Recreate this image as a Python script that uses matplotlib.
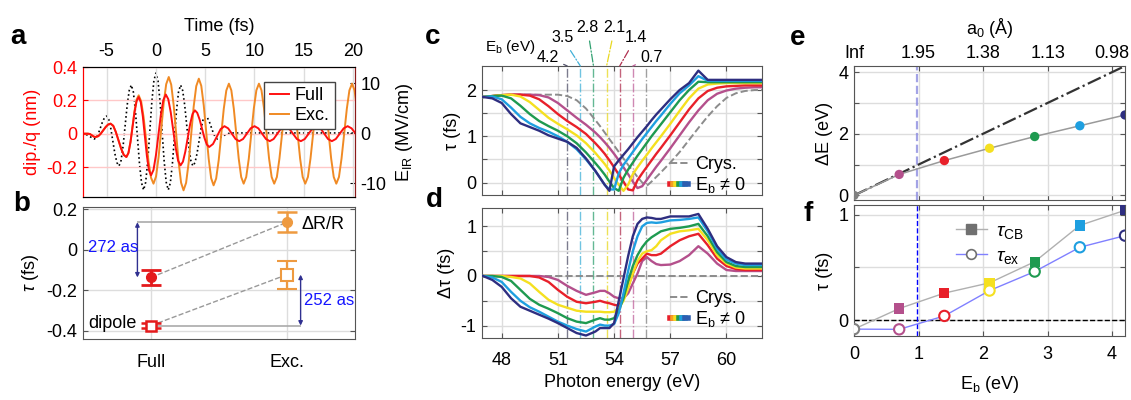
import matplotlib
matplotlib.use('Agg')
import matplotlib.pyplot as plt
from matplotlib.lines import Line2D
from matplotlib.legend_handler import HandlerTuple

plt.rcParams['font.family'] = ['Liberation Sans', 'DejaVu Sans']
plt.rcParams['font.size'] = 13
plt.rcParams['mathtext.fontset'] = 'custom'
plt.rcParams['mathtext.rm'] = 'Liberation Sans'
plt.rcParams['mathtext.it'] = 'Liberation Sans:italic'
plt.rcParams['axes.unicode_minus'] = False
plt.rcParams['xtick.direction'] = 'in'
plt.rcParams['ytick.direction'] = 'in'

# ---- panel a : dipole (nm) and IR field (MV/cm) vs time (fs)
t_exc = [-7.5, -6.9, -6.7, -6.5, -6.3, -6.1, -5.85, -5.6, -5.35, -5.1, -4.85, -4.6, -4.33, -4.07, -3.8, -3.53, -3.27,
         -3.0, -2.79, -2.58, -2.375, -2.17, -1.96, -1.75, -1.5, -1.25, -1.0, -0.75, -0.5, -0.25, 0.01, 0.27, 0.525,
         0.78, 1.04, 1.3, 1.55, 1.8, 2.05, 2.3, 2.55, 2.8, 3.06, 3.32, 3.575, 3.83, 4.09, 4.35, 4.6, 4.85, 5.1,
         5.35, 5.6, 5.85, 6.11, 6.37, 6.625, 6.88, 7.14, 7.4, 7.65, 7.9, 8.15, 8.4, 8.65, 8.9, 9.16, 9.42, 9.675,
         9.93, 10.19, 10.45, 10.71, 10.97, 11.225, 11.48, 11.74, 12.0, 12.27, 12.53, 12.8, 13.07, 13.33, 13.6,
         13.86, 14.12, 14.375, 14.63, 14.89, 15.15, 15.42, 15.68, 15.95, 16.22, 16.48, 16.75, 17.01, 17.27,
         17.525, 17.78, 18.04, 18.3, 18.57, 18.83, 19.1, 19.37, 19.63, 19.9, 20.15, 20.4]
dip_exc = [0.0, 0.0, -0.002, -0.01, -0.018, -0.02, -0.015, 0.0, 0.02, 0.04, 0.055, 0.06, 0.047, 0.01, -0.04, -0.09, -0.127,
           -0.14, -0.115, -0.048, 0.045, 0.138, 0.205, 0.23, 0.194, 0.098, -0.035, -0.168, -0.264, -0.30, -0.257, -0.14, 0.02,
           0.18, 0.297, 0.34, 0.294, 0.17, 0.0, -0.17, -0.294, -0.34, -0.295, -0.173, -0.005, 0.163, 0.285, 0.33, 0.287, 0.17, 0.01,
           -0.15, -0.267, -0.31, -0.269, -0.158, -0.005, 0.148, 0.259, 0.30, 0.26, 0.15, 0.0, -0.15, -0.26, -0.30, -0.26, -0.15, 0.0,
           0.15, 0.26, 0.30, 0.26, 0.15, 0.0, -0.15, -0.26, -0.30, -0.26, -0.15, 0.0, 0.15, 0.26, 0.30,
           0.26, 0.15, 0.0, -0.15, -0.26, -0.30, -0.26, -0.15, 0.0, 0.15, 0.26, 0.30, 0.26, 0.15,
           0.0, -0.15, -0.26, -0.30, -0.26, -0.15, 0.0, 0.15, 0.26, 0.30, 0.26, 0.15]
t_full = [-7.5, -6.9, -6.7, -6.5, -6.3, -6.1, -5.85, -5.6, -5.35, -5.1, -4.85, -4.6, -4.33, -4.07, -3.8, -3.53, -3.27,
          -3.0, -2.79, -2.58, -2.375, -2.17, -1.96, -1.75, -1.54, -1.33, -1.125, -0.92, -0.71, -0.5, -0.25, 0.0, 0.25,
          0.5, 0.75, 1.0, 1.25, 1.5, 1.75, 2.0, 2.25, 2.5, 2.74, 2.98, 3.225, 3.47, 3.71, 3.95, 4.19, 4.43, 4.675,
          4.92, 5.16, 5.4, 5.79, 6.175, 6.56, 6.95, 7.325, 7.7, 8.075, 8.45, 8.84, 9.225, 9.61, 10.0, 10.39,
          10.775, 11.16, 11.55, 11.94, 12.325, 12.71, 13.1, 13.5, 13.9, 14.3, 14.7, 15.1, 15.5, 15.9, 16.3,
          16.69, 17.075, 17.46, 17.85, 18.25, 18.65, 19.05, 19.45, 19.85, 20.4]
dip_full = [0.0, 0.0, -0.002, -0.01, -0.018, -0.02, -0.015, 0.0, 0.02, 0.04, 0.055, 0.06, 0.047, 0.01, -0.04, -0.09, -0.127,
            -0.14, -0.116, -0.05, 0.04, 0.13, 0.196, 0.22, 0.189, 0.103, -0.015, -0.133, -0.219, -0.25, -0.218, -0.129, -0.008,
            0.114, 0.202, 0.235, 0.207, 0.129, 0.022, -0.084, -0.162, -0.19, -0.168, -0.108, -0.025, 0.058, 0.118, 0.14, 0.125, 0.085, 0.03,
            -0.025, -0.065, -0.08, -0.062, -0.018, 0.027, 0.045, 0.032, 0.0, -0.032, -0.045, -0.032, 0.0, 0.032, 0.045, 0.032,
            0.0, -0.032, -0.045, -0.032, 0.0, 0.032, 0.045, 0.032, 0.0, -0.032, -0.045, -0.032, 0.0, 0.032, 0.045,
            0.032, 0.0, -0.032, -0.045, -0.032, 0.0, 0.032, 0.045, 0.032, -0.01]
t_ir = [-7.5, -7.0, -6.25, -6.04, -5.83, -5.625, -5.42, -5.21, -5.0, -4.79, -4.58, -4.375, -4.17, -3.96, -3.75,
        -3.54, -3.33, -3.125, -2.92, -2.71, -2.5, -2.29, -2.08, -1.875, -1.67, -1.46, -1.25, -1.04, -0.83, -0.625,
        -0.42, -0.21, 0.0, 0.21, 0.42, 0.625, 0.83, 1.04, 1.25, 1.46, 1.67, 1.875, 2.08, 2.29, 2.5, 2.71, 2.92,
        3.125, 3.33, 3.54, 3.75, 3.96, 4.17, 4.375, 4.58, 4.79, 5.0, 5.21, 5.42, 5.625, 5.83, 6.04, 6.25, 7.0,
        7.5, 20.4]
e_ir = [0.0, -0.4, -1.2, -0.89, -0.05, 1.1, 2.25, 3.09, 3.4, 2.73, 0.9, -1.6, -4.1, -5.93, -6.6,
        -5.51, -2.55, 1.5, 5.55, 8.51, 9.6, 8.19, 4.35, -0.9, -6.15, -9.99, -11.4, -9.83, -5.55, 0.3,
        6.15, 10.43, 12.0, 10.43, 6.15, 0.3, -5.55, -9.83, -11.4, -9.99, -6.15, -0.9, 4.35, 8.19, 9.6, 8.51, 5.55,
        1.5, -2.55, -5.51, -6.6, -5.93, -4.1, -1.6, 0.9, 2.73, 3.4, 3.09, 2.25, 1.1, -0.05, -0.89, -1.2, -0.4,
        0.0, 0.0]

# ---- panel b : delays (fs)
methods = ['Full', 'Exc.']
tau_refl = [-0.137, 0.135]
err_refl = [0.035, 0.048]
tau_dip = [-0.374, -0.123]
err_dip = [0.012, 0.069]
gap_labels = ['272 as', '252 as']

# ---- panels c, d : delay vs photon energy
energy = [47, 47.5, 48, 48.5, 49, 49.5, 50, 50.5, 51, 51.5, 52, 52.5, 53, 53.25, 53.5, 53.75, 54, 54.25,
          54.5, 54.75, 55, 55.25, 55.5, 55.75, 56, 56.25, 56.5, 57, 57.5, 58, 58.5, 59, 59.5, 60, 60.5,
          61, 61.5, 62]
tau_crys = [1.85, 1.87, 1.89, 1.9, 1.9, 1.9, 1.9, 1.9, 1.9, 1.87, 1.78, 1.6, 1.35, 1.22, 1.08, 0.94, 0.8, 0.66,
            0.52, 0.38, 0.25, 0.12, 0.0, -0.07, 0.02, 0.12, 0.22, 0.43, 0.66, 0.92, 1.18, 1.43, 1.65, 1.83, 1.93,
            1.98, 2.0, 2.0]
tau_07 = [1.85, 1.87, 1.89, 1.9, 1.9, 1.9, 1.89, 1.84, 1.72, 1.56, 1.4, 1.25, 1.08, 0.98, 0.87, 0.75, 0.62, 0.48,
          0.33, 0.18, 0.02, -0.12, -0.08, 0.06, 0.2, 0.34, 0.47, 0.74, 1.02, 1.3, 1.56, 1.78, 1.92, 1.99, 2.03,
          2.05, 2.06, 2.06]
tau_14 = [1.85, 1.87, 1.89, 1.9, 1.9, 1.88, 1.8, 1.65, 1.48, 1.33, 1.2, 1.05, 0.85, 0.74, 0.62, 0.48, 0.33, 0.17,
          0.02, -0.15, -0.17, 0.05, 0.2, 0.34, 0.48, 0.62, 0.75, 1.02, 1.3, 1.58, 1.82, 1.98, 2.05, 2.08, 2.09,
          2.1, 2.1, 2.1]
tau_21 = [1.85, 1.87, 1.89, 1.9, 1.86, 1.74, 1.57, 1.4, 1.27, 1.15, 1.02, 0.85, 0.64, 0.52, 0.4, 0.26, 0.1, -0.05,
          -0.18, -0.05, 0.18, 0.33, 0.47, 0.6, 0.74, 0.87, 1.0, 1.27, 1.55, 1.82, 2.03, 2.12, 2.14, 2.15, 2.15,
          2.15, 2.15, 2.15]
tau_28 = [1.85, 1.87, 1.88, 1.82, 1.66, 1.48, 1.33, 1.22, 1.12, 1.0, 0.85, 0.65, 0.42, 0.3, 0.17, 0.02, -0.12, -0.18,
          0.1, 0.28, 0.43, 0.58, 0.72, 0.86, 1.0, 1.13, 1.26, 1.52, 1.78, 2.0, 2.18, 2.17, 2.17, 2.17, 2.17,
          2.17, 2.17, 2.17]
tau_35 = [1.85, 1.86, 1.8, 1.62, 1.42, 1.28, 1.18, 1.1, 1.0, 0.88, 0.72, 0.5, 0.25, 0.1, -0.05, -0.15, -0.15, 0.2,
          0.38, 0.52, 0.66, 0.8, 0.94, 1.07, 1.2, 1.33, 1.45, 1.7, 1.93, 2.1, 2.3, 2.2, 2.2, 2.2, 2.2,
          2.2, 2.2, 2.2]
tau_42 = [1.85, 1.82, 1.72, 1.48, 1.28, 1.2, 1.12, 1.02, 0.95, 0.88, 0.75, 0.52, 0.25, 0.1, -0.05, -0.18, 0.35, 0.48,
          0.6, 0.72, 0.85, 0.98, 1.1, 1.22, 1.35, 1.47, 1.58, 1.8, 2.0, 2.15, 2.42, 2.22, 2.22, 2.22, 2.22,
          2.22, 2.22, 2.22]
dtau_crys = [0.0] * 38
dtau_07 = [0, 0, 0, 0, 0, 0, 0, -0.02, -0.08, -0.2, -0.3, -0.38, -0.33, -0.3, -0.3, -0.35, -0.42, -0.45,
           -0.45, -0.35, -0.15, 0.05, 0.3, 0.38, 0.3, 0.24, 0.22, 0.23, 0.3, 0.42, 0.6, 0.45, 0.25, 0.12, 0.1,
           0.1, 0.1, 0.1]
dtau_14 = [0, 0, 0, 0, 0, 0, -0.03, -0.12, -0.28, -0.42, -0.52, -0.55, -0.52, -0.5, -0.53, -0.55, -0.58, -0.6,
           -0.45, -0.2, 0.05, 0.25, 0.35, 0.45, 0.42, 0.42, 0.45, 0.6, 0.72, 0.8, 0.85, 0.62, 0.35, 0.2, 0.14,
           0.12, 0.12, 0.12]
dtau_21 = [0, 0, 0, -0.02, -0.05, -0.15, -0.32, -0.48, -0.58, -0.64, -0.7, -0.72, -0.72, -0.72, -0.73, -0.73, -0.72, -0.65,
           -0.5, -0.25, 0.05, 0.3, 0.45, 0.5, 0.52, 0.6, 0.72, 0.85, 0.9, 0.92, 0.95, 0.72, 0.42, 0.25, 0.17,
           0.15, 0.15, 0.15]
dtau_28 = [0, 0, -0.02, -0.1, -0.28, -0.46, -0.58, -0.66, -0.75, -0.85, -0.92, -0.95, -0.88, -0.85, -0.88, -0.88, -0.85, -0.7,
           -0.45, -0.1, 0.2, 0.42, 0.58, 0.7, 0.78, 0.84, 0.9, 0.95, 0.97, 1.0, 1.05, 0.8, 0.48, 0.28, 0.2,
           0.18, 0.18, 0.18]
dtau_35 = [0, -0.03, -0.12, -0.32, -0.5, -0.63, -0.72, -0.82, -0.92, -1.0, -1.07, -1.12, -1.02, -0.98, -1.0, -1.0, -0.97, -0.75,
           -0.35, 0.1, 0.5, 0.8, 1.0, 1.07, 1.08, 1.07, 1.08, 1.12, 1.13, 1.15, 1.18, 0.9, 0.55, 0.33, 0.25,
           0.22, 0.22, 0.22]
dtau_42 = [0, -0.08, -0.22, -0.45, -0.62, -0.7, -0.78, -0.86, -0.95, -1.05, -1.15, -1.2, -1.12, -1.05, -1.05, -1.05, -0.95, -0.5,
           -0.05, 0.4, 0.8, 1.05, 1.15, 1.18, 1.17, 1.15, 1.15, 1.2, 1.2, 1.2, 1.25, 0.95, 0.6, 0.38, 0.28,
           0.25, 0.25, 0.25]

eb_labels = ['0.7', '1.4', '2.1', '2.8', '3.5', '4.2']
eb_colors = ['#B4508C', '#E8202A', '#F5E020', '#1E9A50', '#1E9FE0', '#2E2E80']
tau_curves = [tau_07, tau_14, tau_21, tau_28, tau_35, tau_42]
dtau_curves = [dtau_07, dtau_14, dtau_21, dtau_28, dtau_35, dtau_42]
# energies of the dash-dot markers (Crys., then Eb = 0.7 ... 4.2)
mark_E = [55.7, 55.0, 54.3, 53.6, 52.9, 52.2, 51.5]
mark_colors = ['#808080', '#C0609A', '#B03050', '#E8D820', '#30A070', '#40B0D8', '#505068']

# ---- panels e, f
eb = [0, 0.7, 1.4, 2.1, 2.8, 3.5, 4.2]
dE = [0, 0.68, 1.13, 1.53, 1.91, 2.26, 2.61]
tau_cb = [-0.085, 0.11, 0.256, 0.353, 0.553, 0.897, 1.04]
tau_ex = [-0.085, -0.087, 0.04, 0.28, 0.46, 0.69, 0.80]
pt_colors = ['#808080'] + eb_colors
a0_labels = ['Inf', '1.95', '1.38', '1.13', '0.98']
eb_cut = 0.98

fig = plt.figure(figsize=(11.31, 4.0), dpi=100)
grid_c = '#DDDDDD'
frame_c = '#555555'

# ================= a
ax_a = fig.add_axes([0.0734, 0.5075, 0.2405, 0.325])
ax_a2 = ax_a.twinx()
ax_a.set_zorder(ax_a2.get_zorder() + 1)
ax_a.patch.set_visible(False)
ax_a2.plot(t_ir, e_ir, ':', color='black', lw=1.2)
ax_a.plot(t_exc, dip_exc, color='#F08A24', lw=1.4, label='Exc.')
ax_a.plot(t_full, dip_full, color='#FF1010', lw=1.4, label='Full')
ax_a.set_xlim(-7.4, 20.2)
ax_a.set_ylim(-0.38, 0.4)
ax_a2.set_ylim(-12.8, 13.2)
ax_a.xaxis.tick_top()
ax_a.xaxis.set_label_position('top')
ax_a.set_xticks([-5, 0, 5, 10, 15, 20])
ax_a.set_xlabel('Time (fs)', labelpad=9)
ax_a.tick_params(axis='x', pad=5, length=0)
ax_a.set_yticks([-0.2, 0, 0.2, 0.4], ['-0.2', '0', '0.2', '0.4'])
ax_a.tick_params(axis='y', colors='red', labelcolor='red', pad=4)
ax_a.set_ylabel('dip./q (nm)', color='red')
ax_a2.set_yticks([-10, 0, 10], ['-10', '0', '10'])
ax_a2.tick_params(axis='y', pad=4)
ax_a2.set_ylabel('E$_\\mathrm{IR}$ (MV/cm)', labelpad=5)
ax_a.grid(axis='x', color=grid_c, lw=1)
ax_a.grid(axis='y', color='#FFC8C8', lw=1)
for ax in (ax_a, ax_a2):
    ax.spines['left'].set_color('red')
    ax.spines['right'].set_color('#8B1A1A')
h, l = ax_a.get_legend_handles_labels()
ax_a.legend(h[::-1], l[::-1], loc='upper right', bbox_to_anchor=(0.96, 0.955), fontsize=13,
            handlelength=1.1, handletextpad=0.3, labelspacing=0.15, borderpad=0.3,
            fancybox=False, edgecolor='#444444', framealpha=1)

# ================= b
ax_b = fig.add_axes([0.0734, 0.1525, 0.2405, 0.33])
xpos = [1, 2]
ax_b.plot(xpos, tau_refl, '--', color='#999999', lw=1, zorder=2)
ax_b.plot(xpos, tau_dip, '--', color='#999999', lw=1, zorder=2)
ax_b.hlines(tau_refl[1], 0.9, xpos[1], color='#AAAAAA', lw=1.2, zorder=1)
ax_b.hlines(tau_dip[0], xpos[0], 2.1, color='#AAAAAA', lw=1.2, zorder=1)
ax_b.errorbar(xpos[0], tau_refl[0], yerr=err_refl[0], fmt='o', color='#E41A1C', ms=7, capsize=7, elinewidth=2, capthick=2, zorder=4)
ax_b.errorbar(xpos[1], tau_refl[1], yerr=err_refl[1], fmt='o', color='#EE9A40', ms=7, capsize=7, elinewidth=1.8, capthick=1.8, zorder=4)
ax_b.errorbar(xpos[0], tau_dip[0], yerr=err_dip[0], fmt='s', color='#E41A1C', mfc='white', mew=1.8, ms=7, capsize=7, elinewidth=2, capthick=2, zorder=4)
ax_b.errorbar(xpos[1], tau_dip[1], yerr=err_dip[1], fmt='s', color='#EE9A40', mfc='white', mew=1.5, ms=8, capsize=7, elinewidth=1.6, capthick=1.6, zorder=4)
ax_b.annotate('', xy=(0.9, tau_refl[1]), xytext=(0.9, tau_refl[0]),
              arrowprops=dict(arrowstyle='<|-|>', color='#303090', lw=1, mutation_scale=6, shrinkA=0, shrinkB=0))
ax_b.annotate('', xy=(2.1, tau_dip[1]), xytext=(2.1, tau_dip[0]),
              arrowprops=dict(arrowstyle='<|-|>', color='#303090', lw=1, mutation_scale=6, shrinkA=0, shrinkB=0))
ax_b.text(0.72, 0.011, gap_labels[0], color='#1515FF', ha='center', va='center', fontsize=12)
ax_b.text(2.31, -0.249, gap_labels[1], color='#1515FF', ha='center', va='center', fontsize=12)
ax_b.text(2.108, 0.125, 'ΔR/R', ha='left', va='center', fontsize=13)
ax_b.text(0.895, -0.365, 'dipole', ha='right', va='center', fontsize=13)
ax_b.set_xlim(0.5, 2.5)
ax_b.set_ylim(-0.44, 0.21)
ax_b.set_xticks(xpos, methods)
ax_b.set_yticks([-0.4, -0.2, 0, 0.2], ['-0.4', '-0.2', '0', '0.2'])
ax_b.set_ylabel('$\\tau$ (fs)')
ax_b.tick_params(axis='x', pad=11, length=0)
ax_b.tick_params(axis='y', right=True, pad=4, color=frame_c)
ax_b.grid(color=grid_c, lw=1)
ax_b.set_axisbelow(True)
for s in ax_b.spines.values():
    s.set_color(frame_c)

# ================= c, d
ax_c = fig.add_axes([0.4262, 0.5125, 0.2476, 0.3225])
ax_d = fig.add_axes([0.4262, 0.155, 0.2476, 0.325])
for ax, crys, curves, leg_y in ((ax_c, tau_crys, tau_curves, -0.125), (ax_d, dtau_crys, dtau_curves, -0.055)):
    for e0, mc in zip(mark_E, mark_colors):
        ax.axvline(e0, color=mc, ls='-.', lw=1, alpha=0.75, zorder=1)
    ax.plot(energy, crys, '--', color='#8C8C8C', lw=1.4, zorder=2, label='Crys.')
    for vals, col in zip(curves, eb_colors):
        ax.plot(energy, vals, color=col, lw=1.7, zorder=3)
    ax.set_xlim(46.95, 61.9)
    ax.set_xticks([48, 51, 54, 57, 60])
    ax.grid(color=grid_c, lw=1)
    ax.set_axisbelow(True)
    ax.tick_params(top=True, right=True, color=frame_c, pad=4)
    for s in ax.spines.values():
        s.set_color(frame_c)
    rainbow = tuple(Line2D([], [], color=c, lw=4) for c in ['#E8202A', '#F5A020', '#F5E020', '#1E9A50', '#1E9FE0', '#2E5EB0'])
    crys_h = Line2D([], [], color='#8C8C8C', ls='--', lw=1.4)
    ax.legend([crys_h, rainbow], ['Crys.', 'E$_\\mathrm{b}$ ≠ 0'], handler_map={tuple: HandlerTuple(ndivide=None, pad=0)},
              loc='lower right', bbox_to_anchor=(1.0, leg_y), frameon=False, fontsize=13,
              handlelength=1.0, handletextpad=0.4, labelspacing=0.1)

ax_c.set_ylim(-0.27, 2.52)
ax_c.set_yticks([0, 0.5, 1, 1.5, 2], ['0', '', '1', '', '2'])
ax_c.tick_params(labelbottom=False)
ax_c.set_ylabel('τ (fs)')
ax_d.set_ylim(-1.25, 1.37)
ax_d.set_yticks([-1, -0.5, 0, 0.5, 1], ['-1', '', '0', '', '1'])
ax_d.tick_params(axis='x', pad=10)
ax_d.set_ylabel('Δτ (fs)')
ax_d.set_xlabel('Photon energy (eV)')

# Eb labels above panel c
lab_off = [(-20, 9), (-18, 28), (-6, 38), (8, 38), (16, 28), (19, 9)]
for lab, e0, mc, off in zip(eb_labels[::-1], mark_E[:0:-1], mark_colors[:0:-1], lab_off):
    ax_c.annotate(lab, xy=(e0, 1.0), xycoords=ax_c.get_xaxis_transform(), xytext=off,
                  textcoords='offset pixels', ha='center', va='center', fontsize=11.5,
                  arrowprops=dict(arrowstyle='-', color=mc, lw=0.9, ls='-.', shrinkA=2, shrinkB=0),
                  annotation_clip=False)
fig.text(510 / 1131, 1 - 47 / 400, 'E$_\\mathrm{b}$ (eV)', ha='center', va='center', fontsize=11)

# ================= e
ax_e = fig.add_axes([0.7551, 0.5, 0.2396, 0.335])
ax_e.axvline(eb_cut, color='#8C8CE0', ls='--', lw=1.6, alpha=0.8, zorder=1)
ax_e.plot(eb, eb, '-.', color='#333333', lw=1.6, zorder=2)
ax_e.plot(eb, dE, color='#9A9A9A', lw=1.1, zorder=2)
ax_e.scatter(eb, dE, c=pt_colors, s=45, zorder=3, edgecolors='none')
ax_e.set_xlim(0, 4.2)
ax_e.set_ylim(-0.15, 4.2)
ax_e.set_xticks([0, 1, 2, 3, 4], a0_labels)
ax_e.set_yticks([0, 1, 2, 3, 4], ['0', '', '2', '', '4'])
ax_e.tick_params(axis='x', top=True, bottom=True, labeltop=True, labelbottom=False, pad=3, color=frame_c)
ax_e.tick_params(axis='y', right=True, pad=4, color=frame_c)
ax_e.xaxis.set_label_position('top')
ax_e.set_xlabel('a$_0$ (Å)', labelpad=8)
ax_e.set_ylabel('ΔE (eV)')
ax_e.grid(color=grid_c, lw=1)
ax_e.set_axisbelow(True)
for s in ax_e.spines.values():
    s.set_color(frame_c)

# ================= f
ax_f = fig.add_axes([0.7551, 0.16, 0.2396, 0.3275])
ax_f.axhline(0, color='black', ls='--', lw=1, zorder=1)
ax_f.axvline(eb_cut, color='blue', ls='--', lw=1, zorder=1)
ax_f.plot(eb, tau_cb, color='#B0B0B0', lw=1, zorder=2)
ax_f.plot(eb, tau_ex, color='#8080FF', lw=1, zorder=2)
ax_f.scatter(eb[1:], tau_cb[1:], marker='s', c=pt_colors[1:], s=55, zorder=3, edgecolors='none')
ax_f.scatter(eb, tau_ex, marker='o', facecolors='white', edgecolors=pt_colors, s=55, lw=1.5, zorder=4)
ax_f.set_xlim(0, 4.2)
ax_f.set_ylim(-0.15, 1.09)
ax_f.set_xticks([0, 1, 2, 3, 4])
ax_f.set_yticks([0, 0.5, 1], ['0', '', '1'])
ax_f.tick_params(axis='x', top=True, pad=7, color=frame_c)
ax_f.tick_params(axis='y', right=True, pad=4, color=frame_c)
ax_f.set_xlabel('E$_\\mathrm{b}$ (eV)', labelpad=8)
ax_f.set_ylabel('τ (fs)')
ax_f.grid(color=grid_c, lw=1)
ax_f.set_axisbelow(True)
for s in ax_f.spines.values():
    s.set_color(frame_c)
h_cb = Line2D([], [], color='#B0B0B0', lw=1, marker='s', ms=7, mfc='#707070', mec='#707070')
h_ex = Line2D([], [], color='#8080FF', lw=1, marker='o', ms=7, mfc='white', mec='#707070', mew=1.2)
ax_f.legend([h_cb, h_ex], ['$\\tau_\\mathrm{CB}$', '$\\tau_\\mathrm{ex}$'], loc='upper left',
            bbox_to_anchor=(0.31, 1.0), frameon=False, fontsize=14, handlelength=1.6,
            handletextpad=0.5, labelspacing=0.3)

# panel letters
for lab, x, y in (('a', 18, 37), ('b', 22, 204), ('c', 433, 37), ('d', 434, 200), ('e', 798, 38), ('f', 808, 214)):
    fig.text(x / 1131, 1 - y / 400, lab, fontsize=20, fontweight='bold', ha='center', va='center')

fig.savefig('out.png', dpi=100)
